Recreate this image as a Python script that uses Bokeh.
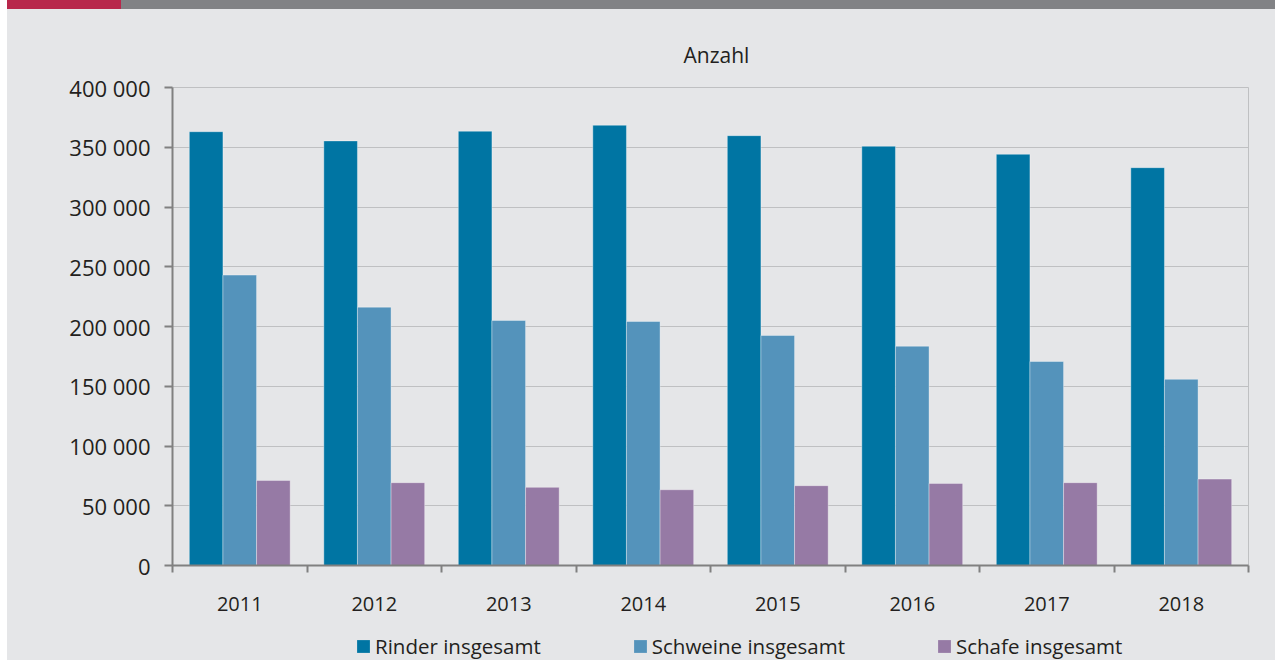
import numpy as np
from bokeh.plotting import figure
from bokeh.models import (ColumnDataSource, Range1d, FixedTicker, LinearAxis,
                          Legend, LegendItem, Div, Grid)
from bokeh.layouts import column, row
from bokeh.transform import dodge
from bokeh.embed import file_html
from bokeh.resources import INLINE

years = ["2011", "2012", "2013", "2014", "2015", "2016", "2017", "2018"]
rinder = [363000, 355300, 363400, 368400, 359700, 350800, 344100, 332900]
schweine = [243000, 216200, 205000, 204200, 192500, 183500, 170700, 155800]
schafe = [71200, 69300, 65400, 63400, 66800, 68700, 69300, 72300]
series_names = ["Rinder insgesamt", "Schweine insgesamt", "Schafe insgesamt"]
series_colors = ["#0075a3", "#5493bb", "#967aa5"]
y_ticks = list(range(0, 400001, 50000))

BG = "#e5e6e8"
TXT = "#231f20"
AX = "#808080"
GRID = "#bfc0c2"

LEFT_PAD = 7
W = 1275 - LEFT_PAD
FRAME_LEFT = 172

pos = np.arange(len(years)) + 0.5
src = ColumnDataSource(dict(x=pos, year=years, rinder=rinder,
                            schweine=schweine, schafe=schafe))

p = figure(width=W, height=616, output_backend="svg", toolbar_location=None,
           x_range=Range1d(0, len(years)), y_range=Range1d(0, 400000),
           x_axis_type=None, y_axis_type=None,
           min_border_left=FRAME_LEFT - LEFT_PAD, min_border_right=27, min_border_top=78,
           min_border_bottom=60)
p.background_fill_color = BG
p.border_fill_color = BG
p.outline_line_color = GRID
p.outline_line_width = 1

renderers = []
for key, off, col in zip(["rinder", "schweine", "schafe"], [-0.25, 0.0, 0.25], series_colors):
    r = p.vbar(x=dodge("x", off), top=key, width=0.25, source=src,
               fill_color=col, line_color="white", line_alpha=0.35, line_width=1)
    renderers.append(r)

# y axis
yax = LinearAxis(ticker=FixedTicker(ticks=y_ticks, minor_ticks=[]))
yax.major_label_overrides = {t: f"{t:,}".replace(",", " ") for t in y_ticks}
yax.axis_line_color = AX
yax.axis_line_width = 2
yax.major_tick_line_color = AX
yax.major_tick_line_width = 2
yax.major_tick_in = 0
yax.major_tick_out = 8
yax.minor_tick_line_color = None
yax.major_label_standoff = 14
yax.major_label_text_font = "Open Sans"
yax.major_label_text_font_size = "22px"
yax.major_label_text_color = TXT
p.add_layout(yax, "left")

# x axis: labels at group centers, ticks at group boundaries
xax = LinearAxis(ticker=FixedTicker(ticks=list(pos),
                                    minor_ticks=list(range(len(years) + 1))))
xax.major_label_overrides = {float(x): y for x, y in zip(pos, years)}
xax.axis_line_color = AX
xax.axis_line_width = 2
xax.major_tick_line_color = None
xax.major_tick_in = 0
xax.major_tick_out = 0
xax.minor_tick_line_color = AX
xax.minor_tick_line_width = 2
xax.minor_tick_in = 0
xax.minor_tick_out = 7
xax.major_label_standoff = 24
xax.major_label_text_font = "Open Sans"
xax.major_label_text_font_size = "20px"
xax.major_label_text_color = TXT
p.add_layout(xax, "below")

g = Grid(dimension=1, ticker=yax.ticker, grid_line_color=GRID, grid_line_width=1)
p.add_layout(g)

# title
p.title.text = "Anzahl"
p.title.align = "left"
p.title.offset = 511
p.title.standoff = 37
p.title.text_font = "Open Sans"
p.title.text_font_size = "21px"
p.title.text_font_style = "normal"
p.title.text_color = TXT

# legend strip (separate figure so the legend is not clipped);
# the proxy bars sit outside the strip's visible range
lf = figure(width=W, height=35, output_backend="svg", toolbar_location=None,
            x_range=Range1d(0, 1), y_range=Range1d(0, 1),
            x_axis_type=None, y_axis_type=None, min_border=0)
lf.background_fill_color = BG
lf.border_fill_color = BG
lf.outline_line_color = None
leg_rs = [lf.vbar(x=[-10], top=[-10], bottom=[-11], width=0.1, fill_color=c, line_color=None)
          for c in series_colors]
legend = Legend(items=[LegendItem(label=n, renderers=[r]) for n, r in zip(series_names, leg_rs)],
                orientation="horizontal", location=(355 - FRAME_LEFT, 0),
                glyph_width=16, glyph_height=16, label_standoff=4, spacing=91,
                padding=0, margin=0, border_line_color=None, background_fill_alpha=0,
                label_text_font="Open Sans", label_text_font_size="20.5px",
                label_text_color=TXT)
lf.add_layout(legend, "center")

bar = Div(width=W, height=9, margin=0,
          styles={"background": "linear-gradient(to right, #b8274b 0px, #b8274b 114px, #818285 114px, #818285 100%)"})
spacer = Div(width=LEFT_PAD, height=660, margin=0, styles={"background": "white"})

col = column(bar, p, lf, spacing=0, styles={"background": BG})
layout = row(spacer, col, spacing=0)
open("out.html", "w").write(file_html(layout, INLINE))
